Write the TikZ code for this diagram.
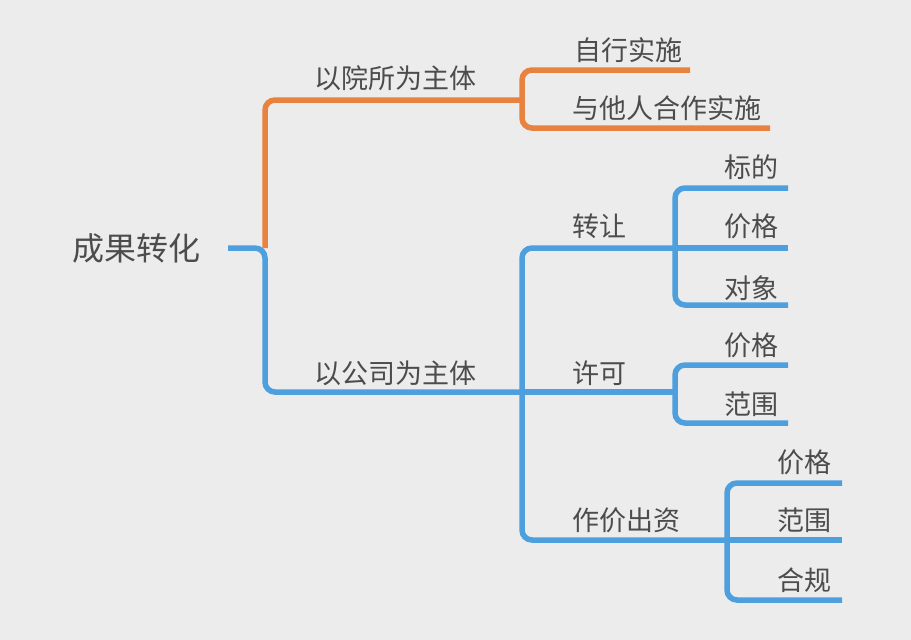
\documentclass[tikz,border=0pt]{standalone}
\usepackage{fontspec}
\newfontfamily\cjk{Noto Sans CJK SC}
\definecolor{bg}{HTML}{ECECEC}
\definecolor{org}{HTML}{E8823F}
\definecolor{blu}{HTML}{4E9FDE}
\definecolor{txt}{HTML}{4C4C4C}
\begin{document}
\begin{tikzpicture}[x=1pt,y=-1pt,
  lbl/.style={font=\cjk\fontsize{27}{31}\selectfont, text=txt, inner sep=0pt, anchor=west},
  rootlbl/.style={font=\cjk\fontsize{32}{36}\selectfont, text=txt, inner sep=0pt, anchor=west},
  oline/.style={draw=org, line width=5.5pt, rounded corners=10pt},
  bline/.style={draw=blu, line width=5.5pt, rounded corners=10pt}]
\fill[bg] (0,0) rectangle (911,640);
\useasboundingbox (0,0) rectangle (911,640);
% coordinates
\coordinate (r) at (228,248);
\coordinate (j0) at (265,248);
\coordinate (a1) at (522,100);
\coordinate (a1t) at (690,70);
\coordinate (a1b) at (770,128);
\coordinate (b1) at (522,392);
\coordinate (c1) at (675,248);
\coordinate (c2) at (675,392);
\coordinate (c3) at (727,540);
\coordinate (k1) at (788,188);
\coordinate (k2) at (788,248);
\coordinate (k3) at (788,305);
\coordinate (m1) at (788,365);
\coordinate (m2) at (788,423);
\coordinate (n1) at (842,483);
\coordinate (n2) at (842,540);
\coordinate (n3) at (842,600);
% connectors
\draw[oline] (j0) |- (a1);
\draw[oline] (a1t) -| (a1) |- (a1b);
\draw[bline] (r) -- (j0) |- (b1);
\draw[bline] (b1) -- (c2);
\draw[bline] (c1) -| (b1) |- (c3);
\draw[bline] (k1) -| (c1) |- (k3);
\draw[bline] (c1) -- (k2);
\draw[bline] (m1) -| (c2) |- (m2);
\draw[bline] (n1) -| (c3) |- (n3);
\draw[bline] (c3) -- (n2);
% labels
\node[rootlbl] (root) at (72,248) {成果转化};
\node[lbl] (ys) at (314,78) {以院所为主体};
\node[lbl] (zx) at (574,50) {自行实施};
\node[lbl] (yt) at (572,108) {与他人合作实施};
\node[lbl] (gs) at (314,373) {以公司为主体};
\node[lbl] (zr) at (572,226) {转让};
\node[lbl] (xk) at (572,373) {许可};
\node[lbl] (zj) at (572,520) {作价出资};
\node[lbl] (bd) at (724,167) {标的};
\node[lbl] (jg1) at (724,226) {价格};
\node[lbl] (dx) at (724,288) {对象};
\node[lbl] (jg2) at (724,345) {价格};
\node[lbl] (fw1) at (724,404) {范围};
\node[lbl] (jg3) at (777,462) {价格};
\node[lbl] (fw2) at (777,520) {范围};
\node[lbl] (hg) at (777,580) {合规};
\end{tikzpicture}
\end{document}
